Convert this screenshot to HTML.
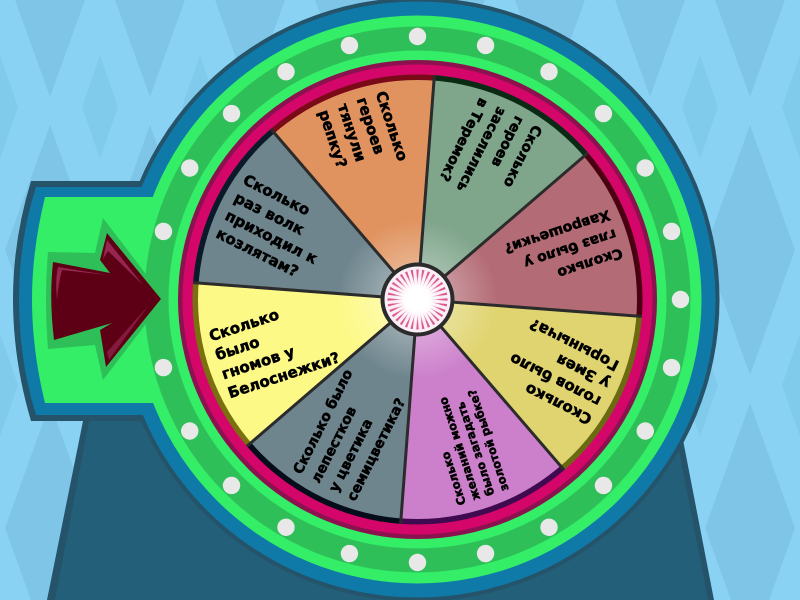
<!DOCTYPE html>
<html><head><meta charset="utf-8"><style>html,body{margin:0;padding:0;background:#8ad2f4}svg{display:block}text{font-family:"DejaVu Sans","Liberation Sans",sans-serif;font-weight:bold;fill:#000;stroke:#000;stroke-width:.55px}</style></head><body>
<svg width="800" height="600" viewBox="0 0 800 600" xmlns="http://www.w3.org/2000/svg">
<defs>
<pattern id="bg" x="0" y="-160" width="100" height="278" patternUnits="userSpaceOnUse">
<polygon points="50,7 95,132 50,257 5,132" fill="#7ec5e7"/>
<polygon points="0,215 18,267 0,319 -18,267" fill="#80cbec"/><polygon points="100,215 118,267 100,319 82,267" fill="#80cbec"/>
<polygon points="0,-63 18,-11 0,41 -18,-11" fill="#80cbec"/><polygon points="100,-63 118,-11 100,41 82,-11" fill="#80cbec"/>
</pattern>
<clipPath id="inner"><circle cx="417.5" cy="299.5" r="219.5"/></clipPath>
<radialGradient id="glow" gradientUnits="userSpaceOnUse" cx="417.5" cy="299.5" r="80"><stop offset="0.45" stop-color="#fff" stop-opacity=".28"/><stop offset="1" stop-color="#fff" stop-opacity="0"/></radialGradient>
<radialGradient id="hub" gradientUnits="userSpaceOnUse" cx="417.5" cy="299.5" r="24"><stop offset="0.45" stop-color="#fff"/><stop offset="1" stop-color="#fff" stop-opacity="0"/></radialGradient>
</defs>
<rect width="800" height="600" fill="#8ad2f4"/>
<rect width="800" height="600" fill="url(#bg)"/>
<polygon points="83,421 47,600 714,600 683,440 400,400" fill="#24536a"/>
<polygon points="89,421 55,600 708,600 677,440 400,400" fill="#235f78"/>
<path d="M31,181H150V421H31Q13,360 13,299Q13,240 31,181Z" fill="#24536a"/>
<circle cx="417.5" cy="299.5" r="302" fill="#24536a"/>
<path d="M36,187H160V415H36Q19,360 19,299Q19,240 36,187Z" fill="#0f7aa8"/>
<circle cx="417.5" cy="299.5" r="298" fill="#0f7aa8"/>
<path d="M45,197H180V403H45Q32,350 32,299Q32,250 45,197Z" fill="#33ee66"/>
<circle cx="417.5" cy="299.5" r="284" fill="#33ee66"/>
<circle cx="417.5" cy="299.5" r="273" fill="#2fbf58"/>
<circle cx="417.5" cy="299.5" r="249" fill="#33ee66"/>
<circle cx="417.5" cy="299.5" r="239.5" fill="#8b124f"/>
<circle cx="417.5" cy="299.5" r="235" fill="#d5066a"/>
<g fill="#e8e8e8" transform="translate(417.5 299.5)">
<circle cy="-263" r="8.7"/><circle cy="-263" r="8.7" transform="rotate(15)"/><circle cy="-263" r="8.7" transform="rotate(30)"/><circle cy="-263" r="8.7" transform="rotate(45)"/><circle cy="-263" r="8.7" transform="rotate(60)"/><circle cy="-263" r="8.7" transform="rotate(75)"/><circle cy="-263" r="8.7" transform="rotate(90)"/><circle cy="-263" r="8.7" transform="rotate(105)"/><circle cy="-263" r="8.7" transform="rotate(120)"/><circle cy="-263" r="8.7" transform="rotate(135)"/><circle cy="-263" r="8.7" transform="rotate(150)"/><circle cy="-263" r="8.7" transform="rotate(165)"/><circle cy="-263" r="8.7" transform="rotate(180)"/><circle cy="-263" r="8.7" transform="rotate(195)"/><circle cy="-263" r="8.7" transform="rotate(210)"/><circle cy="-263" r="8.7" transform="rotate(225)"/><circle cy="-263" r="8.7" transform="rotate(240)"/><circle cy="-263" r="8.7" transform="rotate(255)"/><circle cy="-263" r="8.7" transform="rotate(285)"/><circle cy="-263" r="8.7" transform="rotate(300)"/><circle cy="-263" r="8.7" transform="rotate(315)"/><circle cy="-263" r="8.7" transform="rotate(330)"/><circle cy="-263" r="8.7" transform="rotate(345)"/>
</g>
<path d="M165,299L103,218L95,253L48,252Q44,299 48,349L95,345L103,380Z" fill="#2fbf58"/>
<path d="M161,299L107,233L100,260L110,273L53,262Q49,299 54,340L112,323L100,330L106,367Z" fill="#5d0015"/>
<path d="M58,267L107,275L62,270Q58,285 57,300Q55,280 58,267Z" fill="#96254f"/>
<path d="M107,240L143,285L108,251L103,259Z" fill="#96254f"/>
<path d="M148,306L109,360L107,352Z" fill="#96254f" opacity=".7"/>
<path d="M417.5 299.5L434.4 75.1A225 225 0 0 1 588.1 152.8Z" fill="#0a2a14"/>
<path d="M417.5 299.5L588.1 152.8A225 225 0 0 1 641.9 316.4Z" fill="#4a0010"/>
<path d="M417.5 299.5L641.9 316.4A225 225 0 0 1 564.2 470.1Z" fill="#6b6a10"/>
<path d="M417.5 299.5L564.2 470.1A225 225 0 0 1 400.6 523.9Z" fill="#3f0a4f"/>
<path d="M417.5 299.5L400.6 523.9A225 225 0 0 1 246.9 446.2Z" fill="#060d1a"/>
<path d="M417.5 299.5L246.9 446.2A225 225 0 0 1 193.1 282.6Z" fill="#7a7010"/>
<path d="M417.5 299.5L193.1 282.6A225 225 0 0 1 270.8 128.9Z" fill="#0a1a28"/>
<path d="M417.5 299.5L270.8 128.9A225 225 0 0 1 434.4 75.1Z" fill="#7a0a18"/>
<g clip-path="url(#inner)">
<path d="M417.5 299.5L434.4 75.1A225 225 0 0 1 588.1 152.8Z" fill="#7fa58b"/>
<path d="M417.5 299.5L588.1 152.8A225 225 0 0 1 641.9 316.4Z" fill="#b36c76"/>
<path d="M417.5 299.5L641.9 316.4A225 225 0 0 1 564.2 470.1Z" fill="#e0d470"/>
<path d="M417.5 299.5L564.2 470.1A225 225 0 0 1 400.6 523.9Z" fill="#cc7fcb"/>
<path d="M417.5 299.5L400.6 523.9A225 225 0 0 1 246.9 446.2Z" fill="#6f858e"/>
<path d="M417.5 299.5L246.9 446.2A225 225 0 0 1 193.1 282.6Z" fill="#fdf986"/>
<path d="M417.5 299.5L193.1 282.6A225 225 0 0 1 270.8 128.9Z" fill="#6f858e"/>
<path d="M417.5 299.5L270.8 128.9A225 225 0 0 1 434.4 75.1Z" fill="#e0935f"/>
<circle cx="417.5" cy="299.5" r="80" fill="url(#glow)"/>
</g>
<g stroke="#2b2b2b" stroke-width="3">
<line x1="417.5" y1="299.5" x2="434.4" y2="75.1"/><line x1="417.5" y1="299.5" x2="588.1" y2="152.8"/><line x1="417.5" y1="299.5" x2="641.9" y2="316.4"/><line x1="417.5" y1="299.5" x2="564.2" y2="470.1"/><line x1="417.5" y1="299.5" x2="400.6" y2="523.9"/><line x1="417.5" y1="299.5" x2="246.9" y2="446.2"/><line x1="417.5" y1="299.5" x2="193.1" y2="282.6"/><line x1="417.5" y1="299.5" x2="270.8" y2="128.9"/>
</g>
<g transform="translate(417.5 299.5)">
<g transform="rotate(-18.3)" font-size="15"><text x="-209" y="-25">Сколько</text><text x="-209" y="-5">было</text><text x="-209" y="15">гномов у</text><text x="-209" y="35">Белоснежки?</text></g>
<g transform="rotate(26.7)" font-size="15"><text x="-209" y="-25">Сколько</text><text x="-209" y="-5">раз волк</text><text x="-209" y="15">приходил к</text><text x="-209" y="35">козлятам?</text></g>
<g transform="rotate(71.7)" font-size="15"><text x="-209" y="-25">Сколько</text><text x="-209" y="-5">героев</text><text x="-209" y="15">тянули</text><text x="-209" y="35">репку?</text></g>
<g transform="rotate(116.7)" font-size="14"><text x="-209" y="-25">Сколько</text><text x="-209" y="-5">героев</text><text x="-209" y="15">заселились</text><text x="-209" y="35">в Теремок?</text></g>
<g transform="rotate(161.7)" font-size="14"><text x="-209" y="-15">Сколько</text><text x="-209" y="5">глаз было у</text><text x="-209" y="25">Хаврошечки?</text></g>
<g transform="rotate(206.7)" font-size="15"><text x="-209" y="-25">Сколько</text><text x="-209" y="-5">голов было</text><text x="-209" y="15">у Змея</text><text x="-209" y="35">Горыныча?</text></g>
<g transform="rotate(251.7)" font-size="11.5"><text x="-209" y="-18">Сколько</text><text x="-209" y="-3">желаний можно</text><text x="-209" y="12">было загадать</text><text x="-209" y="27">золотой рыбке?</text></g>
<g transform="rotate(-63.3)" font-size="14"><text x="-209" y="-25">Сколько было</text><text x="-209" y="-5">лепестков</text><text x="-209" y="15">у цветика</text><text x="-209" y="35">семицветика?</text></g>
</g>
<circle cx="417.5" cy="299.5" r="37" fill="#2b2b2b"/>
<circle cx="417.5" cy="299.5" r="33" fill="#fbeef6"/>
<g fill="#dc5a8e" transform="translate(417.5 299.5)">
<polygon id="ray" points="-1.2,-30 1.2,-30 0,-14"/>
<use href="#ray" transform="rotate(11.25)"/><use href="#ray" transform="rotate(22.5)"/><use href="#ray" transform="rotate(33.75)"/><use href="#ray" transform="rotate(45)"/><use href="#ray" transform="rotate(56.25)"/><use href="#ray" transform="rotate(67.5)"/><use href="#ray" transform="rotate(78.75)"/><use href="#ray" transform="rotate(90)"/><use href="#ray" transform="rotate(101.25)"/><use href="#ray" transform="rotate(112.5)"/><use href="#ray" transform="rotate(123.75)"/><use href="#ray" transform="rotate(135)"/><use href="#ray" transform="rotate(146.25)"/><use href="#ray" transform="rotate(157.5)"/><use href="#ray" transform="rotate(168.75)"/><use href="#ray" transform="rotate(180)"/><use href="#ray" transform="rotate(191.25)"/><use href="#ray" transform="rotate(202.5)"/><use href="#ray" transform="rotate(213.75)"/><use href="#ray" transform="rotate(225)"/><use href="#ray" transform="rotate(236.25)"/><use href="#ray" transform="rotate(247.5)"/><use href="#ray" transform="rotate(258.75)"/><use href="#ray" transform="rotate(270)"/><use href="#ray" transform="rotate(281.25)"/><use href="#ray" transform="rotate(292.5)"/><use href="#ray" transform="rotate(303.75)"/><use href="#ray" transform="rotate(315)"/><use href="#ray" transform="rotate(326.25)"/><use href="#ray" transform="rotate(337.5)"/><use href="#ray" transform="rotate(348.75)"/>
</g>
<circle cx="417.5" cy="299.5" r="24" fill="url(#hub)"/>
</svg>
</body></html>
